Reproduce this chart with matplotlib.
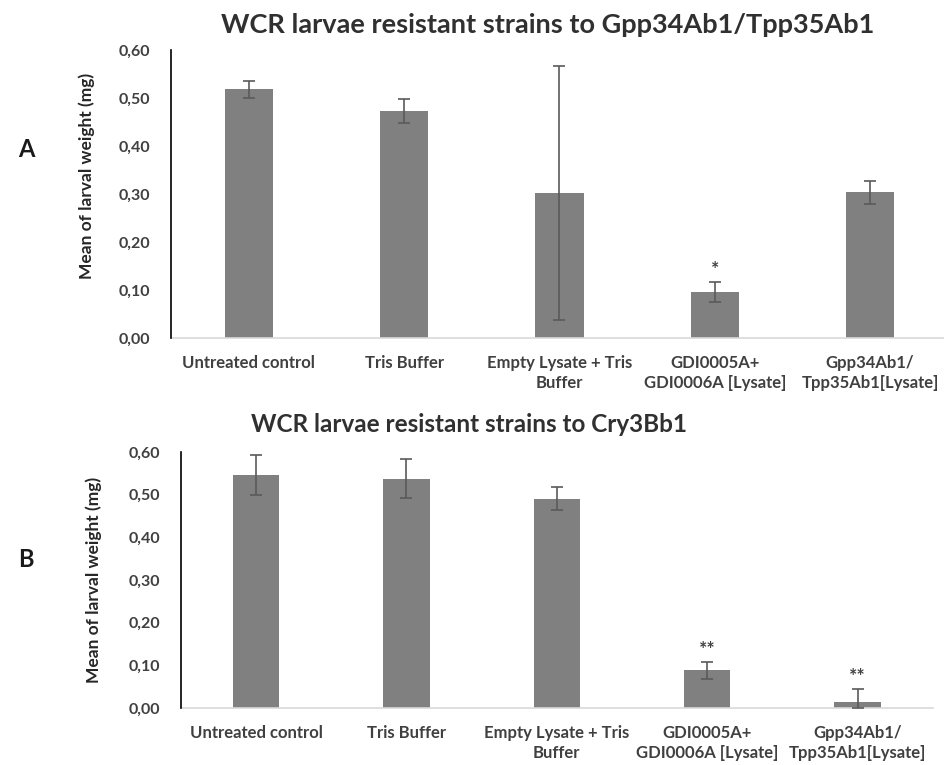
import numpy as np
import matplotlib.pyplot as plt

plt.rcParams['font.family'] = ['Lato', 'DejaVu Sans']

categorias = ['Untreated control', 'Tris Buffer', 'Empty Lysate + Tris\nBuffer',
              'GDI0005A+\nGDI0006A [Lysate]', 'Gpp34Ab1/\nTpp35Ab1[Lysate]']

# painel A - Gpp34Ab1/Tpp35Ab1
mediaA = [0.518, 0.473, 0.302, 0.096, 0.304]
erroA = [0.017, 0.025, 0.265, 0.020, 0.024]
sigA = ['', '', '', '*', '']

# painel B - Cry3Bb1
mediaB = [0.546, 0.537, 0.490, 0.088, 0.014]
erroB = [0.047, 0.046, 0.027, 0.020, 0.031]
sigB = ['', '', '', '**', '**']

yticks = [0.0, 0.1, 0.2, 0.3, 0.4, 0.5, 0.6]

fig = plt.figure(figsize=(9.45, 7.65), dpi=100)

def painel(rect, medias, erros, sigs, titulo, tam_titulo, x_titulo, y_titulo, x_ylabel, y_ylabel):
    ax = fig.add_axes(rect)
    x = np.arange(len(categorias))
    ax.bar(x, medias, width=0.31, color='#808080', zorder=2)
    # barra de erro inferior cortada no zero
    baixo = [min(e, m) for m, e in zip(medias, erros)]
    ax.errorbar(x, medias, yerr=[baixo, erros], fmt='none', ecolor='#5a5a5a',
                elinewidth=1.2, capsize=4, capthick=1.2, zorder=3)
    for xi, m, e, s in zip(x, medias, erros, sigs):
        if s:
            ax.text(xi, m + e + 0.01, s, ha='center', va='bottom',
                    fontsize=14, color='#404040', fontweight='bold')
    ax.set_xlim(-0.5, 4.5)
    ax.set_ylim(0, 0.6)
    ax.set_yticks(yticks)
    ax.set_yticklabels([('%.2f' % v).replace('.', ',') for v in yticks],
                       fontsize=11.5, fontweight='bold', color='#404040')
    ax.set_xticks(x)
    ax.set_xticklabels(categorias, fontsize=12, fontweight='bold',
                       color='#404040', linespacing=1.3)
    ax.tick_params(axis='y', length=0, pad=15)
    ax.tick_params(axis='x', length=0, pad=12)
    ax.spines['top'].set_visible(False)
    ax.spines['right'].set_visible(False)
    ax.spines['left'].set_color('black')
    ax.spines['left'].set_linewidth(1.2)
    ax.spines['bottom'].set_color('#d9d9d9')
    ax.spines['bottom'].set_linewidth(1.2)
    ax.spines['left'].set_zorder(4)
    ax.set_ylabel('Mean of larval weight (mg)', fontsize=12.5,
                  fontweight='bold', color='#262626')
    ax.yaxis.set_label_coords(x_ylabel, y_ylabel)
    fig.text(x_titulo, y_titulo, titulo, fontsize=tam_titulo, fontweight='bold',
             color='#303030', ha='center', va='center')
    return ax

axA = painel([0.181, 0.558, 0.822, 0.3766], mediaA, erroA, sigA,
             'WCR larvae resistant strains to Gpp34Ab1/Tpp35Ab1', 19.5,
             548 / 945, 1 - 25 / 765, -0.098, 0.5625)
axB = painel([0.1915, 0.0745, 0.7955, 0.3347], mediaB, erroB, sigB,
             'WCR larvae resistant strains to Cry3Bb1', 17.5,
             469 / 945, 1 - 424 / 765, -0.105, 0.5)

fig.text(0.019, 0.804, 'A', fontsize=17, fontweight='bold', color='#1a1a1a', va='center')
fig.text(0.019, 0.268, 'B', fontsize=17, fontweight='bold', color='#1a1a1a', va='center')

fig.savefig('out.png', dpi=100)
